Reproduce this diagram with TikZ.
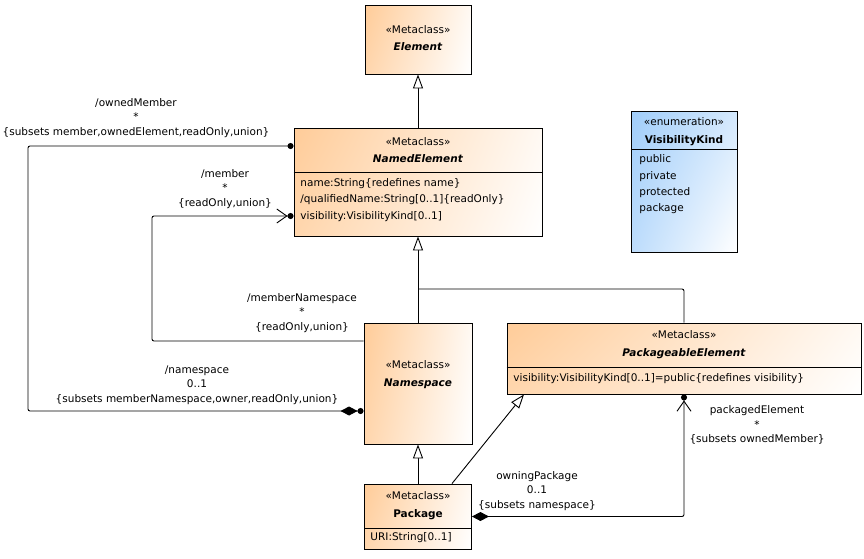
\documentclass[tikz,border=0pt]{standalone}
\usepackage{fontspec}
\setmainfont{DejaVu Sans}
\usetikzlibrary{arrows.meta,shadings}

\definecolor{metaorange}{RGB}{255,204,153}
\definecolor{enumblue}{RGB}{160,205,250}

\tikzset{
  metaclass/.style={draw=black,inner sep=0pt,upper left=metaorange,lower left=metaorange!80,upper right=metaorange!12,lower right=white},
  enumbox/.style={draw=black,inner sep=0pt,upper left=enumblue,lower left=enumblue!70,upper right=enumblue!45,lower right=white},
  hdr/.style={align=center,inner sep=0pt,font=\fontsize{10.5}{17.5}\selectfont},
  attr/.style={align=left,anchor=west,inner sep=0pt,font=\fontsize{10.5}{16.3}\selectfont},
  lbl/.style={align=center,inner sep=0pt,font=\fontsize{10.5}{14.5}\selectfont},
  gen/.style={-{Triangle[open,length=14pt,width=10pt,fill=white]}},
  nav/.style={-{Straight Barb[length=10pt,width=14pt]Circle[length=6pt]}},
  ownedassoc/.style={{Circle[length=6pt]Diamond[length=17pt,width=9pt]}-{Circle[length=6pt]}},
  pkgassoc/.style={{Diamond[length=17pt,width=9pt]}-{Straight Barb[length=10pt,width=14pt]Circle[length=6pt]}}
}

\begin{document}
\begin{tikzpicture}[x=1pt,y=-1pt,>=Latex,line width=0.9pt]
  \useasboundingbox (0,0) rectangle (864,558);
  % class boxes
  \node[metaclass,minimum width=106pt,minimum height=69pt] (element) at (418,39.5) {};
  \node[metaclass,minimum width=248pt,minimum height=108pt] (named) at (418,182) {};
  \node[enumbox,minimum width=106pt,minimum height=141pt] (vkind) at (684,181.5) {};
  \node[metaclass,minimum width=108pt,minimum height=121pt] (ns) at (418,383.5) {};
  \node[metaclass,minimum width=354pt,minimum height=71pt] (pe) at (684,358.5) {};
  \node[metaclass,minimum width=107pt,minimum height=65pt] (pkg) at (418,516.5) {};
  \foreach \cls/\off in {named/10,vkind/32.5,pe/-8.5,pkg/-11.5}{
    \draw ([yshift=\off pt]\cls.west) -- ([yshift=\off pt]\cls.east);
  }

  % headers
  \node[hdr] (element-h) at (418,38) {«Metaclass»\\\textbf{\textit{Element}}};
  \node[hdr] (named-h) at (418,150) {«Metaclass»\\\textbf{\textit{NamedElement}}};
  \node[hdr] (vkind-h) at (684,131.5) {«enumeration»\\\textbf{VisibilityKind}};
  \node[hdr] (ns-h) at (418,374.5) {«Metaclass»\\\textbf{\textit{Namespace}}};
  \node[hdr] (pe-h) at (684,344.5) {«Metaclass»\\\textbf{\textit{PackageableElement}}};
  \node[hdr] (pkg-h) at (418,505.5) {«Metaclass»\\\textbf{Package}};

  % attributes
  \node[attr] (named-a) at (300,200) {name:String\{redefines name\}\\/qualifiedName:String[0..1]\{readOnly\}\\visibility:VisibilityKind[0..1]};
  \node[attr] (vkind-a) at (639,184.5) {public\\private\\protected\\package};
  \node[attr] (pe-a) at (513,379) {visibility:VisibilityKind[0..1]=public\{redefines visibility\}};
  \node[attr] (pkg-a) at (370,538) {URI:String[0..1]};

  % generalizations
  \coordinate (join) at (418,289);
  \draw[gen] (named) -- (element);
  \draw[gen] (ns) -- (named);
  \draw[rounded corners=2pt] (pe.north) |- (join);
  \draw[gen] (pkg) -- (ns);
  \draw[gen] ([xshift=34pt]pkg.north) -- ([xshift=-160pt]pe.south);

  % associations
  \coordinate (obend) at (28,146);
  \coordinate (mbend) at (152,216);
  \draw[ownedassoc,rounded corners=2pt] ([yshift=-27.5pt]ns.west) -| (obend) -- ([yshift=36pt]named.west);
  \draw[nav,rounded corners=2pt] ([yshift=42.5pt]ns.west) -| (mbend) -- ([yshift=-34pt]named.west);
  \draw[pkgassoc,rounded corners=2pt] (pkg.east) -| (pe.south);

  % end labels
  \node[lbl] (owned-l) at (136,118) {/ownedMember\\*\\\{subsets member,ownedElement,readOnly,union\}};
  \node[lbl] (member-l) at (225,189) {/member\\*\\\{readOnly,union\}};
  \node[lbl] (memberns-l) at (302,313) {/memberNamespace\\*\\\{readOnly,union\}};
  \node[lbl] (namespace-l) at (197,385) {/namespace\\0..1\\\{subsets memberNamespace,owner,readOnly,union\}};
  \node[lbl] (owning-l) at (537,491) {owningPackage\\0..1\\\{subsets namespace\}};
  \node[lbl] (packaged-l) at (757,425) {packagedElement\\*\\\{subsets ownedMember\}};
\end{tikzpicture}
\end{document}
